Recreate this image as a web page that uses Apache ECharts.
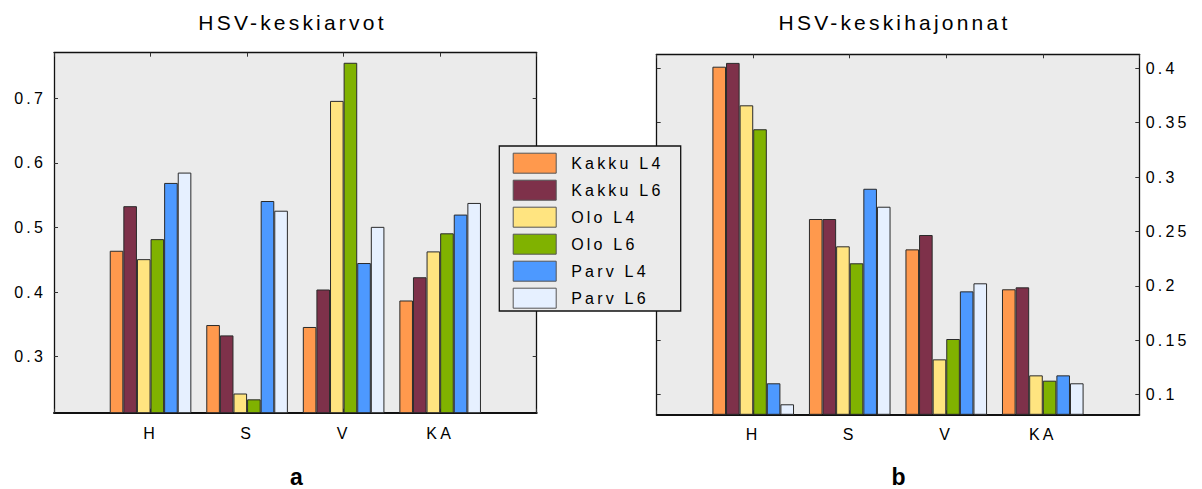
<!DOCTYPE html>
<html>
<head>
<meta charset="utf-8">
<script src="https://cdn.jsdelivr.net/npm/echarts@6/dist/echarts.min.js"></script>
<style>
html, body { margin: 0; padding: 0; background: #fff; }
#c { width: 1202px; height: 489px; }
#c text { letter-spacing: 3.2px; }
</style>
</head>
<body>
<div id="c"></div>
<script>
// ---- data ----
const categories = ['', 'H', 'S', 'V', 'KA', ''];
const seriesNames = ['Kakku L4', 'Kakku L6', 'Olo L4', 'Olo L6', 'Parv L4', 'Parv L6'];
const titleLeft = 'HSV-keskiarvot';
const titleRight = 'HSV-keskihajonnat';
const panelLabels = ['a', 'b'];

// HSV means (H, S, V, KA)
const meanKakkuL4 = [0.464, 0.349, 0.346, 0.387];
const meanKakkuL6 = [0.533, 0.333, 0.404, 0.423];
const meanOloL4   = [0.451, 0.243, 0.696, 0.463];
const meanOloL6   = [0.482, 0.234, 0.755, 0.491];
const meanParvL4  = [0.569, 0.541, 0.445, 0.520];
const meanParvL6  = [0.585, 0.526, 0.501, 0.538];

// HSV standard deviations (H, S, V, KA)
const stdKakkuL4 = [0.4015, 0.2615, 0.2336, 0.1969];
const stdKakkuL6 = [0.4050, 0.2615, 0.2468, 0.1987];
const stdOloL4   = [0.3660, 0.2364, 0.1325, 0.1178];
const stdOloL6   = [0.3440, 0.2208, 0.1512, 0.1129];
const stdParvL4  = [0.1105, 0.2893, 0.1950, 0.1178];
const stdParvL6  = [0.0912, 0.2728, 0.2024, 0.1105];

const leftTicks = [0.3, 0.4, 0.5, 0.6, 0.7];
const rightTicks = [0.1, 0.15, 0.2, 0.25, 0.3, 0.35, 0.4];
const leftRange = [0.2133, 0.7706];
const rightRange = [0.082, 0.4129];

// ---- styles ----
const colors = ['#ff994d', '#7e314a', '#ffe480', '#80b200', '#4d99ff', '#e6f0ff'];
const FONT = '"Liberation Sans", Arial, sans-serif';

const meanSets = [meanKakkuL4, meanKakkuL6, meanOloL4, meanOloL6, meanParvL4, meanParvL6];
const stdSets = [stdKakkuL4, stdKakkuL6, stdOloL4, stdOloL6, stdParvL4, stdParvL6];

function pad(vals) { return ['-'].concat(vals).concat(['-']); }

function xAxes(gi, margin) {
  return [
    {
      type: 'category', gridIndex: gi, data: categories, boundaryGap: false, position: 'bottom',
      axisLine: { show: true, lineStyle: { color: '#111', width: 2 } },
      axisTick: { show: true, inside: true, length: 4, lineStyle: { color: '#333', width: 1 } },
      axisLabel: { show: true, interval: 0, margin: margin, fontSize: 16, color: '#000', fontFamily: FONT },
      splitLine: { show: false }
    },
    {
      type: 'category', gridIndex: gi, data: categories, boundaryGap: false, position: 'top',
      axisLine: { show: true, lineStyle: { color: '#111', width: 1.3 } },
      axisTick: { show: true, inside: true, length: 4, lineStyle: { color: '#333', width: 1 } },
      axisLabel: { show: false },
      splitLine: { show: false }
    }
  ];
}

function yAxes(gi, range, ticks, labelSide, margin) {
  const mk = (pos) => ({
    type: 'value', gridIndex: gi, position: pos, min: range[0], max: range[1],
    axisLine: { show: true, lineStyle: { color: '#111', width: 1.3 } },
    axisTick: { show: true, inside: true, length: 4, customValues: ticks, lineStyle: { color: '#333', width: 1 } },
    axisLabel: { show: pos === labelSide, customValues: ticks, margin: margin, fontSize: 16, color: '#000', fontFamily: FONT },
    splitLine: { show: false }
  });
  return [mk('left'), mk('right')];
}

const series = [];
seriesNames.forEach((name, i) => {
  series.push({
    name: name, type: 'bar', xAxisIndex: 0, yAxisIndex: 0,
    data: pad(meanSets[i]), barWidth: 13.6, barGap: '0%',
    itemStyle: { color: colors[i], borderColor: '#2a2a2a', borderWidth: 1 },
    emphasis: { disabled: true }, clip: true
  });
});
seriesNames.forEach((name, i) => {
  series.push({
    name: name, type: 'bar', xAxisIndex: 2, yAxisIndex: 3,
    data: pad(stdSets[i]), barWidth: 13.6, barGap: '0%',
    itemStyle: { color: colors[i], borderColor: '#2a2a2a', borderWidth: 1 },
    emphasis: { disabled: true }, clip: true
  });
});

const chart = echarts.init(document.getElementById('c'), null, { renderer: 'svg' });
chart.setOption({
  animation: false,
  backgroundColor: '#fff',
  grid: [
    { left: 54, top: 52.7, width: 482.7, height: 360, show: true, backgroundColor: '#ebebeb', borderWidth: 0, outerBoundsMode: 'none', containLabel: false },
    { left: 656.7, top: 54.3, width: 482.6, height: 360, show: true, backgroundColor: '#ebebeb', borderWidth: 0, outerBoundsMode: 'none', containLabel: false }
  ],
  xAxis: xAxes(0, 13).concat(xAxes(1, 11.7)),
  yAxis: yAxes(0, leftRange, leftTicks, 'left', 8).concat(yAxes(1, rightRange, rightTicks, 'right', 6.4)),
  legend: {
    data: seriesNames, orient: 'vertical', left: 512.7, top: 152.7,
    itemWidth: 43, itemHeight: 20, itemGap: 6, padding: 0, icon: 'rect',
    selectedMode: false, z: 6,
    itemStyle: { borderColor: '#555', borderWidth: 1 },
    textStyle: { fontSize: 16, color: '#000', fontFamily: FONT, padding: [0, 0, 0, 10] }
  },
  graphic: [
    { type: 'rect', z: 5, shape: { x: 499.3, y: 146, width: 181.4, height: 165 },
      style: { fill: '#ebebeb', stroke: '#111', lineWidth: 1.3 } },
    { type: 'text', z: 6, x: 292.5, y: 22,
      style: { text: titleLeft, font: '21px ' + FONT, fill: '#000', textAlign: 'center', textVerticalAlign: 'middle' } },
    { type: 'text', z: 6, x: 894.5, y: 22.5,
      style: { text: titleRight, font: '21px ' + FONT, fill: '#000', textAlign: 'center', textVerticalAlign: 'middle' } },
    { type: 'text', z: 6, x: 298, y: 477,
      style: { text: panelLabels[0], font: 'bold 23px ' + FONT, fill: '#000', textAlign: 'center', textVerticalAlign: 'middle' } },
    { type: 'text', z: 6, x: 900, y: 477,
      style: { text: panelLabels[1], font: 'bold 23px ' + FONT, fill: '#000', textAlign: 'center', textVerticalAlign: 'middle' } }
  ],
  series: series
});
</script>
</body>
</html>
